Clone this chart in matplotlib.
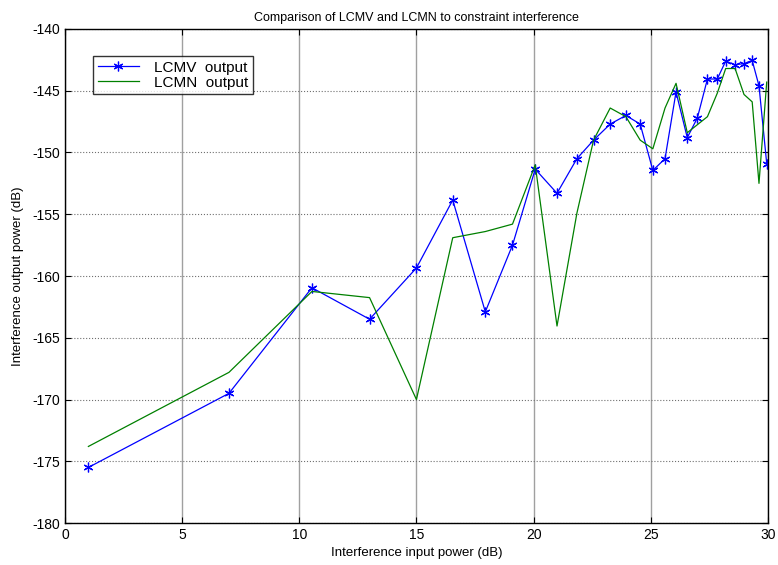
import matplotlib.pyplot as plt
import numpy as np

plt.rcParams['font.family'] = ['Liberation Sans', 'DejaVu Sans']
plt.rcParams['axes.unicode_minus'] = False

# data
x_power = [1, 7, 10.54, 13, 15, 16.55, 17.94, 19.1, 20.07, 21.0, 21.85, 22.56,
           23.27, 23.94, 24.55, 25.09, 25.61, 26.08, 26.56, 26.99, 27.42, 27.84,
           28.2, 28.6, 28.98, 29.33, 29.62, 29.95]
lcmv_out = [-175.5, -169.5, -160.95, -163.5, -159.35, -153.85, -162.9, -157.5,
            -151.35, -153.3, -150.5, -149.0, -147.7, -147.0, -147.7, -151.45,
            -150.5, -145.1, -148.8, -147.2, -144.05, -144.05, -142.6, -142.9,
            -142.8, -142.55, -144.6, -150.9]
lcmn_out = [-173.8, -167.8, -161.25, -161.75, -170.0, -156.9, -156.4, -155.8,
            -151.0, -164.05, -154.9, -149.0, -146.4, -147.1, -149.0, -149.7,
            -146.4, -144.4, -148.4, -147.75, -147.1, -145.2, -143.2, -143.2,
            -145.3, -145.9, -152.5, -144.3]

fig = plt.figure(figsize=(7.78, 5.65), dpi=100)
ax = fig.add_axes([0.0835, 0.0743, 0.9035, 0.8744])

ax.plot(x_power, lcmv_out, color='blue', lw=0.9, marker=(6, 2, 0),
        markersize=7, markeredgewidth=0.9, label='LCMV  output')
ax.plot(x_power, lcmn_out, color='#008000', lw=0.9, label='LCMN  output')

ax.set_xlim(0, 30)
ax.set_ylim(-180, -140)
ax.set_xticks(np.arange(0, 31, 5))
ax.set_yticks(np.arange(-180, -139, 5))

ax.xaxis.grid(True, color='#a0a0a0', lw=1.0, ls='-')
ax.yaxis.grid(True, color='#707070', lw=0.8, ls=':')
ax.set_axisbelow(True)

ax.tick_params(direction='in', top=True, right=True, labelsize=10, length=4)
for s in ax.spines.values():
    s.set_linewidth(1.0)

ax.set_xlabel('Interference input power (dB)', fontsize=9.5, labelpad=4)
ax.set_ylabel('Interference output power (dB)', fontsize=9.5, labelpad=6)
ax.set_title('Comparison of LCMV and LCMN to constraint interference',
             fontsize=9, pad=6)

leg = ax.legend(loc='upper left', bbox_to_anchor=(0.04, 0.945), fontsize=11,
                frameon=True, fancybox=False, borderpad=0.3, labelspacing=0.05,
                handlelength=2.7, handletextpad=1.0, borderaxespad=0)
leg.get_frame().set_edgecolor('black')
leg.get_frame().set_linewidth(1.0)

plt.savefig('out.png', dpi=100)
